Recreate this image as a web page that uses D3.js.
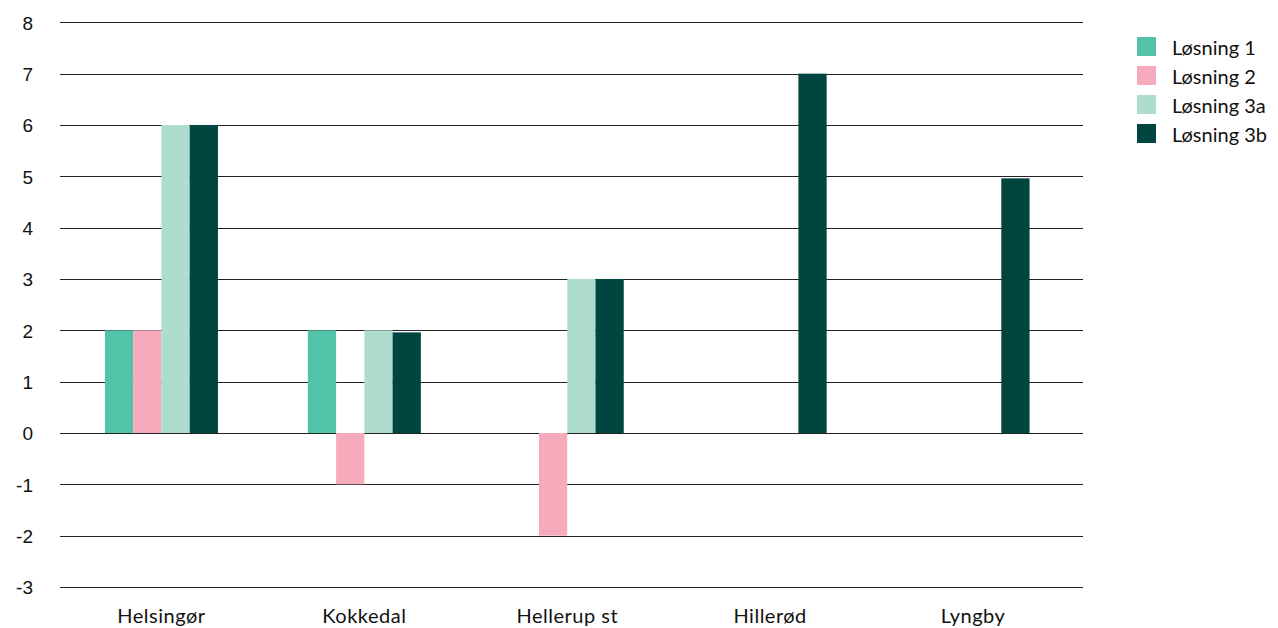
<!DOCTYPE html>
<html>
<head>
<meta charset="utf-8">
<script src="https://cdn.jsdelivr.net/npm/d3@7"></script>
<style>
  html, body { margin: 0; padding: 0; background: #fff; }
  svg { display: block; }
</style>
</head>
<body>
<svg id="chart" width="1278" height="628"></svg>
<script>
// Stations along the line
const stations = ["Helsingør", "Kokkedal", "Hellerup st", "Hillerød", "Lyngby"];
// Solution variants
const solutions = ["Løsning 1", "Løsning 2", "Løsning 3a", "Løsning 3b"];
// Values per solution, one per station (null = no bar)
const losning1  = [2, 2, null, null, null];
const losning2  = [2, -1, -2, null, null];
const losning3a = [6, 2, 3, null, null];
const losning3b = [6, 1.96, 3, 7, 4.96];
const yTicks = [-3, -2, -1, 0, 1, 2, 3, 4, 5, 6, 7, 8];

const series = [losning1, losning2, losning3a, losning3b];
const colors = ["#52c2a8", "#f5abbc", "#aedccf", "#004540"];

const svg = d3.select("#chart");
const plotLeft = 60, gridRight = 1083;

const x = d3.scaleBand().domain(stations).range([60, 1074.5]).paddingInner(0).paddingOuter(0);
const groupWidth = 113;
const xs = d3.scaleBand().domain(solutions).range([0, groupWidth]);

const y = d3.scaleLinear().domain([-3, 8]).range([587, 22.3]);

// Horizontal grid lines
svg.append("g")
  .selectAll("line")
  .data(yTicks)
  .join("line")
  .attr("x1", plotLeft)
  .attr("x2", gridRight)
  .attr("y1", d => Math.round(y(d)) + 0.5)
  .attr("y2", d => Math.round(y(d)) + 0.5)
  .attr("stroke", "#222")
  .attr("stroke-width", 1);

// Y axis labels (plain hyphen for negatives)
const yAxis = d3.axisLeft(y).tickValues(yTicks).tickSize(0).tickPadding(0).tickFormat(d => String(d));
const yg = svg.append("g").attr("transform", "translate(33,0)").call(yAxis);
yg.select(".domain").remove();
yg.selectAll("text")
  .attr("font-family", "Liberation Sans, Arial, sans-serif")
  .attr("font-size", 19)
  .attr("fill", "#111")
  .attr("dy", "0.36em");

// Bars
const rows = [];
stations.forEach((st, i) => {
  solutions.forEach((so, j) => {
    const v = series[j][i];
    if (v !== null) rows.push({ st, so, v, c: colors[j] });
  });
});

svg.append("g")
  .selectAll("rect")
  .data(rows)
  .join("rect")
  .attr("x", d => x(d.st) + (x.bandwidth() - groupWidth) / 2 + xs(d.so))
  .attr("width", xs.bandwidth())
  .attr("y", d => y(Math.max(0, d.v)))
  .attr("height", d => Math.abs(y(d.v) - y(0)))
  .attr("fill", d => d.c);

// X axis labels
const xAxis = d3.axisBottom(x).tickSize(0).tickPadding(0);
const xg = svg.append("g").attr("transform", "translate(0,623)").call(xAxis);
xg.select(".domain").remove();
xg.selectAll("text")
  .attr("font-family", "Lato, sans-serif")
  .attr("font-size", 20)
  .attr("letter-spacing", "0.5px")
  .attr("fill", "#111")
  .attr("dy", 0);

// Legend
const legend = svg.append("g").attr("transform", "translate(1137,37)");
const li = legend.selectAll("g")
  .data(solutions)
  .join("g")
  .attr("transform", (d, i) => `translate(0,${i * 29})`);
li.append("rect")
  .attr("width", 19).attr("height", 19)
  .attr("fill", (d, i) => colors[i]);
li.append("text")
  .attr("x", 35).attr("y", 17.5)
  .attr("font-family", "Lato, sans-serif")
  .attr("font-size", 20)
  .attr("fill", "#111")
  .text(d => d);
</script>
</body>
</html>
